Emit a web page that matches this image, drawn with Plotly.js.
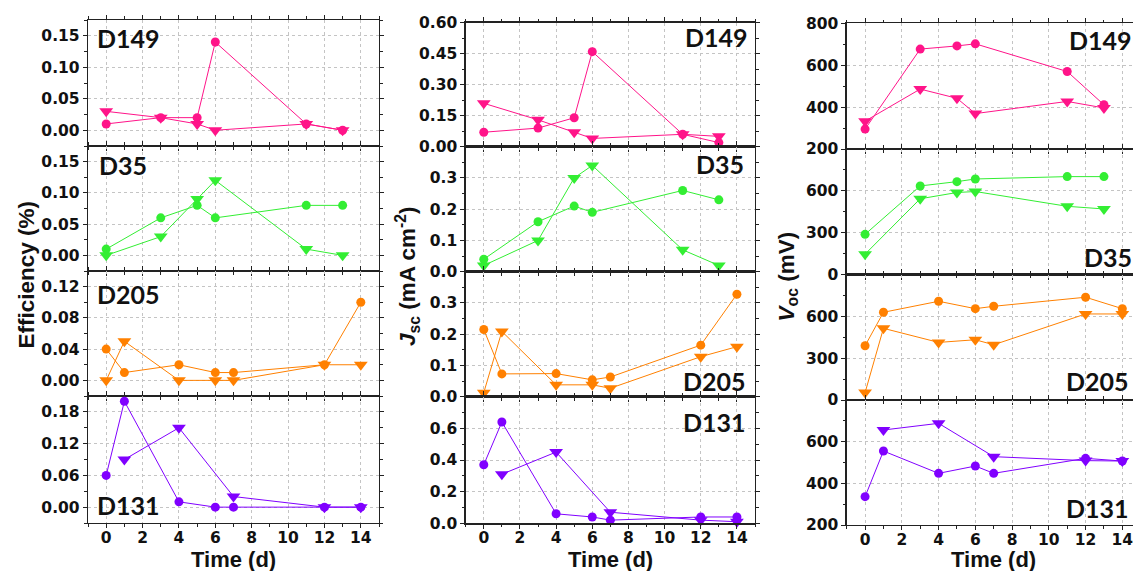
<!DOCTYPE html>
<html>
<head>
<meta charset="utf-8">
<script src="https://cdn.plot.ly/plotly-3.0.1.min.js"></script>
<style>
html,body{margin:0;padding:0;overflow:hidden;background:#fff;}
#chart{width:1145px;height:571px;}
</style>
</head>
<body>
<div id="chart"></div>
<script>
// ---------------- DATA ----------------
const samples = ["D149", "D35", "D205", "D131"];

const days_D149 = [0, 3, 5, 6, 11, 13];
const eff_D149_circ = [0.01, 0.02, 0.02, 0.14, 0.01, 0.00];
const eff_D149_tri  = [0.03, 0.02, 0.01, 0.00, 0.01, 0.00];
const jsc_D149_circ = [0.07, 0.09, 0.14, 0.46, 0.06, 0.02];
const jsc_D149_tri  = [0.21, 0.13, 0.07, 0.04, 0.06, 0.05];
const voc_D149_circ = [295, 677, 692, 702, 570, 411];
const voc_D149_tri  = [333, 486, 442, 369, 427, 396];

const days_D35 = [0, 3, 5, 6, 11, 13];
const eff_D35_circ = [0.01, 0.06, 0.08, 0.06, 0.08, 0.08];
const eff_D35_tri  = [0.00, 0.03, 0.09, 0.12, 0.01, 0.00];
const jsc_D35_circ = [0.04, 0.16, 0.21, 0.19, 0.26, 0.23];
const jsc_D35_tri  = [0.02, 0.10, 0.30, 0.34, 0.07, 0.02];
const voc_D35_circ = [288, 635, 666, 685, 702, 702];
const voc_D35_tri  = [146, 543, 588, 595, 489, 470];

const days_D205 = [0, 1, 4, 6, 7, 12, 14];
const eff_D205_circ = [0.04, 0.01, 0.02, 0.01, 0.01, 0.02, 0.10];
const eff_D205_tri  = [0.00, 0.05, 0.00, 0.00, 0.00, 0.02, 0.02];
const jsc_D205_circ = [0.215, 0.073, 0.074, 0.054, 0.063, 0.165, 0.328];
const jsc_D205_tri  = [0.013, 0.209, 0.038, 0.038, 0.027, 0.128, 0.160];
const voc_D205_circ = [389, 629, 708, 655, 672, 737, 655];
const voc_D205_tri  = [53, 514, 413, 432, 396, 617, 617];

const days_D131_circ = [0, 1, 4, 6, 7, 12, 14];
const days_D131_tri  = [1, 4, 7, 12, 14];
const eff_D131_circ = [0.06, 0.20, 0.01, 0.00, 0.00, 0.00, 0.00];
const eff_D131_tri  = [0.09, 0.15, 0.02, 0.00, 0.00];
const jsc_D131_circ = [0.37, 0.64, 0.06, 0.04, 0.02, 0.04, 0.04];
const jsc_D131_tri  = [0.31, 0.45, 0.07, 0.02, 0.01];
const voc_D131_circ = [336, 555, 448, 483, 448, 520, 507];
const voc_D131_tri  = [656, 688, 528, 509, 507];

const xTickVals = [0, 2, 4, 6, 8, 10, 12, 14];
const xTickText = ["0", "2", "4", "6", "8", "10", "12", "14"];

// y ticks per [col][row]
const yTicks = [
  [[0, 0.05, 0.10, 0.15], [0, 0.05, 0.10, 0.15], [0, 0.04, 0.08, 0.12], [0, 0.06, 0.12, 0.18]],
  [[0, 0.15, 0.30, 0.45, 0.60], [0, 0.1, 0.2, 0.3], [0, 0.1, 0.2, 0.3], [0, 0.2, 0.4, 0.6]],
  [[200, 400, 600, 800], [0, 300, 600], [0, 300, 600], [200, 400, 600]]
];
const yFormats = [[".2f", ".2f", ".2f", ".2f"], [".2f", ".1f", ".1f", ".1f"], ["d", "d", "d", "d"]];
const yRanges = [
  [[-0.025, 0.175], [-0.025, 0.175], [-0.02, 0.14], [-0.03, 0.21]],
  [[0, 0.6], [0, 0.4], [0, 0.4], [0, 0.8]],
  [[200, 800], [0, 900], [0, 900], [200, 800]]
];

// ---------------- STYLE / LAYOUT CONSTANTS ----------------
const W = 1145, H = 571;
const colors = ["#FF1489", "#33EE33", "#FF8000", "#8000FF"];
const colX = [[88, 379], [465.7, 755], [846.7, 1140.7]];
const rowY = [
  [[20, 146], [146, 271], [271, 396], [396, 523]],
  [[22.7, 146.7], [146.7, 271.7], [271.7, 396.7], [396.7, 523.3]],
  [[23.3, 149], [149, 274.5], [274.5, 400], [400, 525]]
];

const series = [
  [
    {xc: days_D149, yc: eff_D149_circ, xt: days_D149, yt: eff_D149_tri},
    {xc: days_D35, yc: eff_D35_circ, xt: days_D35, yt: eff_D35_tri},
    {xc: days_D205, yc: eff_D205_circ, xt: days_D205, yt: eff_D205_tri},
    {xc: days_D131_circ, yc: eff_D131_circ, xt: days_D131_tri, yt: eff_D131_tri}
  ],
  [
    {xc: days_D149, yc: jsc_D149_circ, xt: days_D149, yt: jsc_D149_tri},
    {xc: days_D35, yc: jsc_D35_circ, xt: days_D35, yt: jsc_D35_tri},
    {xc: days_D205, yc: jsc_D205_circ, xt: days_D205, yt: jsc_D205_tri},
    {xc: days_D131_circ, yc: jsc_D131_circ, xt: days_D131_tri, yt: jsc_D131_tri}
  ],
  [
    {xc: days_D149, yc: voc_D149_circ, xt: days_D149, yt: voc_D149_tri},
    {xc: days_D35, yc: voc_D35_circ, xt: days_D35, yt: voc_D35_tri},
    {xc: days_D205, yc: voc_D205_circ, xt: days_D205, yt: voc_D205_tri},
    {xc: days_D131_circ, yc: voc_D131_circ, xt: days_D131_tri, yt: voc_D131_tri}
  ]
];

const tickFont = {family: "DejaVu Sans", size: 15.5, color: "#111", weight: "bold"};
const traces = [];
const layout = {
  width: W, height: H,
  margin: {l: 0, r: 0, t: 0, b: 0, pad: 0},
  paper_bgcolor: "#fff", plot_bgcolor: "#fff",
  showlegend: false,
  annotations: []
};

for (let c = 0; c < 3; c++) {
  for (let r = 0; r < 4; r++) {
    const k = r * 3 + c + 1;
    const xa = "x" + k, ya = "y" + k;
    const s = series[c][r];
    traces.push({
      x: s.xc, y: s.yc, xaxis: xa, yaxis: ya, type: "scatter", mode: "lines+markers",
      line: {color: colors[r], width: 1}, marker: {symbol: "circle", size: 9, color: colors[r]},
      cliponaxis: false
    });
    traces.push({
      x: s.xt, y: s.yt, xaxis: xa, yaxis: ya, type: "scatter", mode: "lines+markers",
      line: {color: colors[r], width: 1}, marker: {symbol: "triangle-down", size: 12, color: colors[r]},
      cliponaxis: false
    });
    const yt = yTicks[c][r];
    const dy = yt[1] - yt[0];
    layout["xaxis" + k] = {
      domain: [colX[c][0] / W, colX[c][1] / W],
      range: [-1, 15], anchor: ya,
      tickmode: "array", tickvals: xTickVals, ticktext: xTickText,
      showticklabels: r === 3, tickfont: tickFont, ticklabelstandoff: -4,
      ticks: "outside", ticklen: 4, tickwidth: 1, tickcolor: "#222",
      mirror: "ticks", showline: true, linecolor: "#222", linewidth: 1.3,
      showgrid: true, gridcolor: "#c4c4c4", griddash: "dot", gridwidth: 1,
      zeroline: false, automargin: false,
      minor: {tickmode: "linear", tick0: 0, dtick: 1, ticks: "outside", ticklen: 2.5, tickcolor: "#222", showgrid: false}
    };
    layout["yaxis" + k] = {
      domain: [1 - rowY[c][r][1] / H, 1 - rowY[c][r][0] / H],
      range: yRanges[c][r], anchor: xa,
      tickmode: "array", tickvals: yt, tickformat: yFormats[c][r],
      tickfont: tickFont,
      ticks: "outside", ticklen: 4, tickwidth: 1, tickcolor: "#222",
      mirror: "ticks", showline: true, linecolor: "#222", linewidth: 1.3,
      showgrid: true, gridcolor: "#c4c4c4", griddash: "dot", gridwidth: 1,
      zeroline: false, automargin: false,
      minor: {tickmode: "linear", tick0: 0, dtick: dy / 2, ticks: "outside", ticklen: 2.5, tickcolor: "#222", showgrid: false}
    };
  }
}

// panel labels
const labelFont = {family: "Lato", size: 25, color: "#111", weight: "bold"};
const labelPos = [
  [[95, 37.5, "left"], [96.5, 165, "left"], [95, 293.7, "left"], [95, 504.5, "left"]],
  [[750, 37.2, "right"], [745.7, 164.5, "right"], [747.7, 380.5, "right"], [747.7, 422, "right"]],
  [[1134, 40.3, "right"], [1134, 257, "right"], [1131, 380.8, "right"], [1131, 507.5, "right"]]
];
for (let c = 0; c < 3; c++) {
  for (let r = 0; r < 4; r++) {
    const p = labelPos[c][r];
    layout.annotations.push({
      text: samples[r], xref: "paper", yref: "paper",
      x: p[0] / W, y: 1 - p[1] / H, xanchor: p[2], yanchor: "middle",
      showarrow: false, font: labelFont
    });
  }
}

// axis titles
const titleFont = {family: "Liberation Sans", size: 22.5, color: "#111", weight: "bold"};
const yTitles = [
  ["Efficiency (%)", 26, 274.5],
  ["<i>J</i><sub>sc</sub> (mA cm<sup>-2</sup>)", 407, 276],
  ["<i>V</i><sub>oc</sub> (mV)", 787, 276.5]
];
yTitles.forEach(t => {
  layout.annotations.push({
    text: t[0], xref: "paper", yref: "paper", x: t[1] / W, y: 1 - t[2] / H,
    xanchor: "center", yanchor: "middle", textangle: -90, showarrow: false, font: titleFont
  });
});
for (let c = 0; c < 3; c++) {
  layout.annotations.push({
    text: "Time (d)", xref: "paper", yref: "paper",
    x: (colX[c][0] + colX[c][1]) / 2 / W, y: 1 - 559 / H,
    xanchor: "center", yanchor: "middle", showarrow: false,
    font: {family: "Liberation Sans", size: 22, color: "#111", weight: "bold"}
  });
}

Plotly.newPlot("chart", traces, layout, {staticPlot: true, displayModeBar: false});
</script>
</body>
</html>
